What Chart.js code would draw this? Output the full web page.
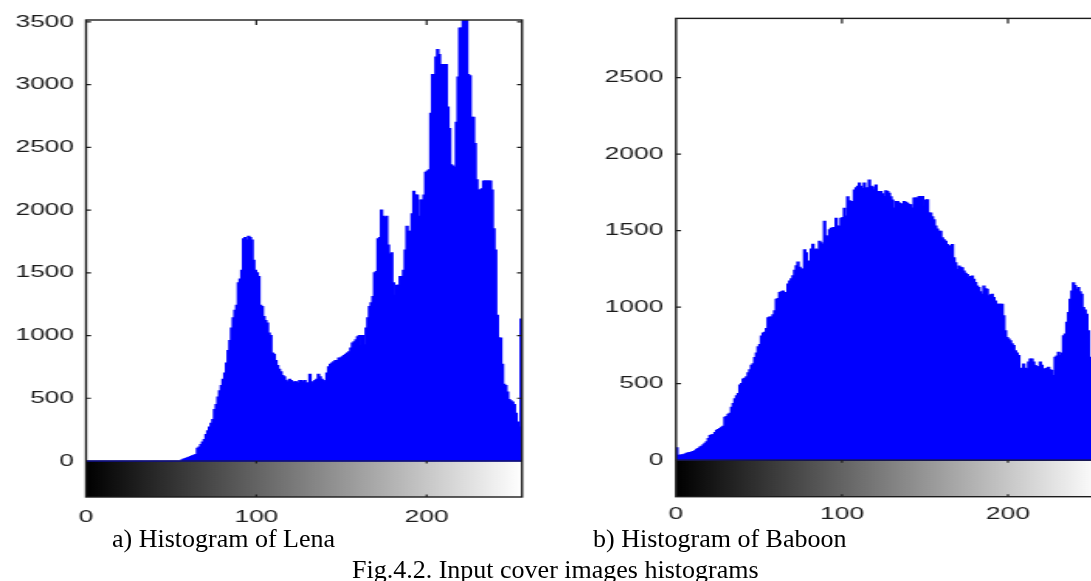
<!DOCTYPE html>
<html><head><meta charset="utf-8">
<script src="https://cdn.jsdelivr.net/npm/chart.js@4.4.1/dist/chart.umd.min.js"></script>
<style>
html,body{margin:0;padding:0;background:#fff;width:1091px;height:581px;overflow:hidden;}
#wrap{position:relative;width:1091px;height:581px;overflow:hidden;}
canvas{position:absolute;top:0;transform-origin:0 0;transform:scaleX(1.55);}
.cap{position:absolute;font-family:"Liberation Serif","Times New Roman",serif;font-size:26px;line-height:26px;color:#000;white-space:nowrap;}
</style></head>
<body><div id="wrap">
<canvas id="c1" width="360" height="530" style="left:0px"></canvas>
<canvas id="c2" width="360" height="530" style="left:560px"></canvas>
<div class="cap" style="left:112px;top:526px">a) Histogram of Lena</div>
<div class="cap" style="left:593px;top:526px">b) Histogram of Baboon</div>
<div class="cap" style="left:352px;top:557px">Fig.4.2. Input cover images histograms</div>
</div>
<script>
// ---- data ----
const grayLevels = Array.from({length:256}, (_, i) => i);
const lenaCounts = [
0,0,0,0,0,0,0,0,0,0, 0,0,0,0,0,0,0,0,0,0,
0,0,0,0,0,0,0,0,0,0, 0,0,0,0,0,0,0,0,0,0,
0,0,0,0,0,0,0,0,0,0, 0,0,0,0,0,0,10,15,20,25,
30,35,40,45,50,100,110,130,150,170, 210,240,270,300,330,410,450,510,560,600,
650,700,780,880,960,1060,1140,1200,1240,1420, 1450,1520,1770,1780,1760,1790,1780,1760,1600,1520,
1500,1470,1240,1230,1150,1120,1100,1020,1000,860, 850,800,760,730,710,680,670,640,630,650,
640,620,630,630,620,640,640,630,640,620, 620,690,610,630,640,650,690,670,650,640,
630,700,750,770,780,790,800,800,820,820, 830,840,850,860,870,900,940,950,965,990,
1000,920,1000,925,1060,1140,1230,1260,1310,1500, 1510,1770,1780,2000,1950,1940,1950,1720,1650,1660,
1420,1320,1400,1400,1470,1470,1520,1680,1870,1830, 1830,1970,2150,2120,2120,1950,2080,2080,2120,2300,
2310,2320,2770,3080,3080,3220,3280,3240,3160,3160, 3160,3160,2820,2650,2360,2350,2340,2700,3060,3450,
3450,3560,3560,3560,3080,3070,2740,2740,2530,2240, 2160,2160,2170,2230,2230,2230,2230,2230,2160,1850,
1680,1160,980,980,770,610,600,550,490,480, 470,450,380,310,270,1130
];
const baboonCounts = [
80,32,32,35,35,40,45,48,50,52, 55,60,70,75,85,90,100,110,120,140,
160,165,165,180,195,200,206,215,220,280, 285,300,305,345,370,400,420,435,490,500,
530,535,545,570,590,620,630,670,700,740, 755,810,830,835,860,930,935,935,950,975,
1050,1055,1095,1100,1105,1095,1080,1150,1170,1185, 1205,1240,1270,1295,1260,1250,1245,1375,1355,1300,
1290,1380,1410,1375,1380,1375,1430,1420,1410,1560, 1465,1460,1505,1515,1518,1520,1580,1530,1528,1580,
1585,1645,1595,1720,1695,1690,1690,1765,1780,1790, 1810,1790,1775,1810,1778,1780,1830,1790,1785,1766,
1798,1755,1750,1755,1740,1723,1760,1755,1744,1720, 1700,1647,1690,1690,1680,1675,1647,1690,1685,1679,
1670,1668,1647,1712,1712,1712,1723,1723,1723,1658, 1700,1701,1614,1614,1590,1571,1530,1510,1495,1495,
1452,1440,1430,1408,1400,1333,1408,1322,1290,1246, 1268,1260,1257,1235,1220,1213,1192,1200,1203,1181,
1160,1138,1127,1100,1083,1138,1120,1116,1073,1080, 1083,1062,1040,1018,1018,1018,1018,943,845,800,
791,780,760,748,715,700,683,596,600,628, 600,596,640,661,661,640,618,612,607,640,
620,585,596,600,607,590,585,553,672,680, 704,683,700,813,823,900,964,1050,1105,1159,
1140,1116,1127,1100,1083,997,980,953,845,672, 640,600,560,520,480,900
];
const lenaYTicks = [0, 500, 1000, 1500, 2000, 2500, 3000, 3500];
const baboonYTicks = [0, 500, 1000, 1500, 2000, 2500];
const xTickValues = [0, 100, 200];

// ---- drawing ----
const K = 1.55; // horizontal stretch of the canvases (CSS)
const INK = '#1c1c1c';

const framePlugin = {
  id: 'frame',
  beforeDatasetsDraw(chart, args, opts) {
    const {ctx, chartArea: a, scales: {x, y}} = chart;
    const y0 = y.getPixelForValue(0);
    const xl = x.getPixelForValue(x.min), xr = x.getPixelForValue(x.max);
    const g = ctx.createLinearGradient(xl, 0, xr, 0);
    g.addColorStop(0, '#000000');
    g.addColorStop(1, '#ffffff');
    ctx.save();
    ctx.fillStyle = g;
    ctx.fillRect(xl, y0, xr - xl, a.bottom - y0);
    ctx.restore();
  },
  afterDatasetsDraw(chart, args, opts) {
    const {ctx, chartArea: a, scales: {x, y}} = chart;
    const y0 = y.getPixelForValue(0);
    ctx.save();
    ctx.strokeStyle = INK;
    ctx.lineWidth = 1.4;
    ctx.strokeRect(a.left, a.top, a.right - a.left, a.bottom - a.top);
    ctx.lineWidth = 1.2;
    ctx.beginPath();
    ctx.moveTo(a.left, y0); ctx.lineTo(a.right, y0);
    const tl = 5 / K;
    opts.yTicks.forEach(v => {
      const py = y.getPixelForValue(v);
      ctx.moveTo(a.left, py); ctx.lineTo(a.left + tl, py);
      ctx.moveTo(a.right, py); ctx.lineTo(a.right - tl, py);
    });
    opts.xTicks.forEach(v => {
      if (v === x.min) return;
      const px = x.getPixelForValue(v);
      ctx.moveTo(px, a.top); ctx.lineTo(px, a.top + 5);
      ctx.moveTo(px, y0); ctx.lineTo(px, y0 + 2.5);
      ctx.moveTo(px, a.bottom); ctx.lineTo(px, a.bottom - 2.5);
    });
    ctx.stroke();
    ctx.restore();
  }
};

function makeChart(id, counts, yTicks, yMin, yMax, geo) {
  const tickFont = {family: '"Liberation Sans", Arial, sans-serif', size: 17};
  return new Chart(document.getElementById(id), {
    type: 'bar',
    data: {
      datasets: [{
        data: grayLevels.map((g, i) => ({x: g + 0.5, y: counts[i]})),
        backgroundColor: '#0000ff',
        borderWidth: 0,
        inflateAmount: 0.6,
        barPercentage: 1.0,
        categoryPercentage: 1.0
      }]
    },
    options: {
      responsive: false,
      animation: false,
      events: [],
      layout: {padding: {left: 0, right: geo.padRight, top: geo.padTop, bottom: 0}},
      plugins: {
        legend: {display: false},
        tooltip: {enabled: false},
        frame: {yTicks: yTicks, xTicks: xTickValues}
      },
      scales: {
        x: {
          type: 'linear', min: 0, max: 256, offset: false,
          grid: {display: false, drawTicks: false},
          border: {display: false},
          ticks: {font: tickFont, color: INK, padding: geo.xPad, maxRotation: 0,
                  callback: v => String(v)},
          afterBuildTicks: s => { s.ticks = xTickValues.map(v => ({value: v})); },
          afterFit: s => { s.height = geo.xH; }
        },
        y: {
          type: 'linear', min: yMin, max: yMax,
          grid: {display: false, drawTicks: false},
          border: {display: false},
          ticks: {font: tickFont, color: INK, padding: geo.yPad,
                  callback: v => String(v)},
          afterBuildTicks: s => { s.ticks = yTicks.map(v => ({value: v})); },
          afterFit: s => { s.width = geo.left; }
        }
      }
    },
    plugins: [framePlugin]
  });
}

makeChart('c1', lenaCounts, lenaYTicks, -287, 3515,
  {left: 86 / K, padRight: 360 - 522 / K, padTop: 20, xH: 33, xPad: 10, yPad: 12 / K});
makeChart('c2', baboonCounts, baboonYTicks, -239, 2887,
  {left: 116 / K, padRight: 360 - 540.9 / K, padTop: 16, xH: 33.3, xPad: 7, yPad: 12.7 / K});
</script>
</body></html>
